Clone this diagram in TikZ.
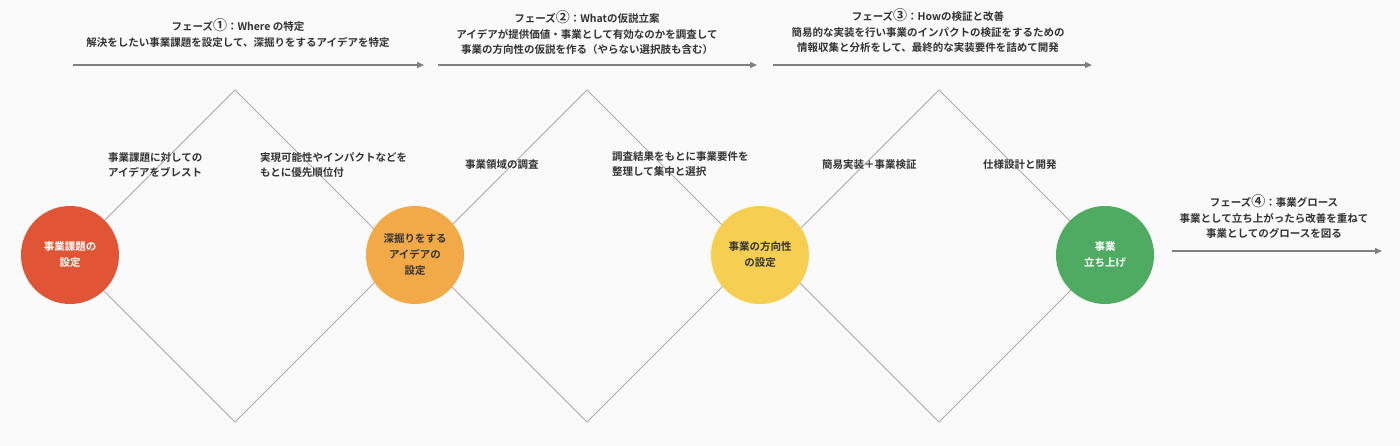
\documentclass[tikz,border=0pt]{standalone}
\usepackage{fontspec}
\setmainfont{Noto Sans CJK JP}[BoldFont={Noto Sans CJK JP Bold}]
\usetikzlibrary{arrows.meta}
\definecolor{bgc}{HTML}{FAFAFA}
\definecolor{txt}{HTML}{333333}
\definecolor{arrowc}{HTML}{7F7F7F}
\definecolor{linec}{HTML}{ABABAB}
\definecolor{cred}{HTML}{E05535}
\definecolor{corange}{HTML}{F2AA48}
\definecolor{cyellow}{HTML}{F6CF52}
\definecolor{cgreen}{HTML}{4FAA62}
\newcommand{\cnum}[1]{{\fontsize{14}{15.5}\selectfont #1}}
\tikzset{
  phasetext/.style={text=txt, font=\fontsize{10.5}{15.5}\selectfont\bfseries, align=center, inner sep=0pt},
  labeltext/.style={text=txt, font=\fontsize{10.5}{15.5}\selectfont\bfseries, align=left, inner sep=0pt, anchor=north west},
  phasearrow/.style={draw=arrowc, line width=1.4pt, -{Triangle[length=7pt,width=6pt]}},
  diam/.style={draw=linec, line width=0.9pt},
  stepcircle/.style={circle, minimum size=98pt, inner sep=0pt, align=center, font=\fontsize{10.5}{16}\selectfont\bfseries}
}
\begin{document}
\begin{tikzpicture}[x=1pt,y=-1pt]
\fill[bgc] (0,0) rectangle (1400,446);
\useasboundingbox (0,0) rectangle (1400,446);

% diamonds
\foreach \c in {235,587,939}{
  \draw[diam] (\c,90) -- (\c+166,256) -- (\c,422) -- (\c-166,256) -- cycle;
}

% circles
\node[stepcircle, fill=cred, text=white] (s1) at (70,255) {事業課題の\\設定};
\node[stepcircle, fill=corange, text=txt] (s2) at (415,255) {深掘りをする\\アイデアの\\設定};
\node[stepcircle, fill=cyellow, text=txt] (s3) at (760,255) {事業の方向性\\の設定};
\node[stepcircle, fill=cgreen, text=white] (s4) at (1105,255) {事業\\立ち上げ};

% phase arrows
\coordinate (a1s) at (73,65);   \coordinate (a1e) at (424,65);
\coordinate (a2s) at (438,65);  \coordinate (a2e) at (757,65);
\coordinate (a3s) at (773,65);  \coordinate (a3e) at (1092,65);
\coordinate (a4s) at (1172,251);\coordinate (a4e) at (1382,251);
\draw[phasearrow] (a1s) -- (a1e);
\draw[phasearrow] (a2s) -- (a2e);
\draw[phasearrow] (a3s) -- (a3e);
\draw[phasearrow] (a4s) -- (a4e);

% phase texts
\node[phasetext] (t1) at (238,33) {フェーズ\cnum{①}：Where の特定\\解決をしたい事業課題を設定して、深掘りをするアイデアを特定};
\node[phasetext] (t2) at (587,33) {フェーズ\cnum{②}：Whatの仮説立案\\アイデアが提供価値・事業として有効なのかを調査して\\事業の方向性の仮説を作る（やらない選択肢も含む）};
\node[phasetext] (t3) at (928,31) {フェーズ\cnum{③}：Howの検証と改善\\簡易的な実装を行い事業のインパクトの検証をするための\\情報収集と分析をして、最終的な実装要件を詰めて開発};
\node[phasetext] (t4) at (1274,217) {フェーズ\cnum{④}：事業グロース\\事業として立ち上がったら改善を重ねて\\事業としてのグロースを図る};

% step labels
\node[labeltext] (l1) at (108,152) {事業課題に対しての\\アイデアをブレスト};
\node[labeltext] (l2) at (260,152) {実現可能性やインパクトなどを\\もとに優先順位付};
\node[labeltext] (l3) at (465,159) {事業領域の調査};
\node[labeltext] (l4) at (612,151) {調査結果をもとに事業要件を\\整理して集中と選択};
\node[labeltext] (l5) at (822,159) {簡易実装＋事業検証};
\node[labeltext] (l6) at (983,159) {仕様設計と開発};
\end{tikzpicture}
\end{document}
